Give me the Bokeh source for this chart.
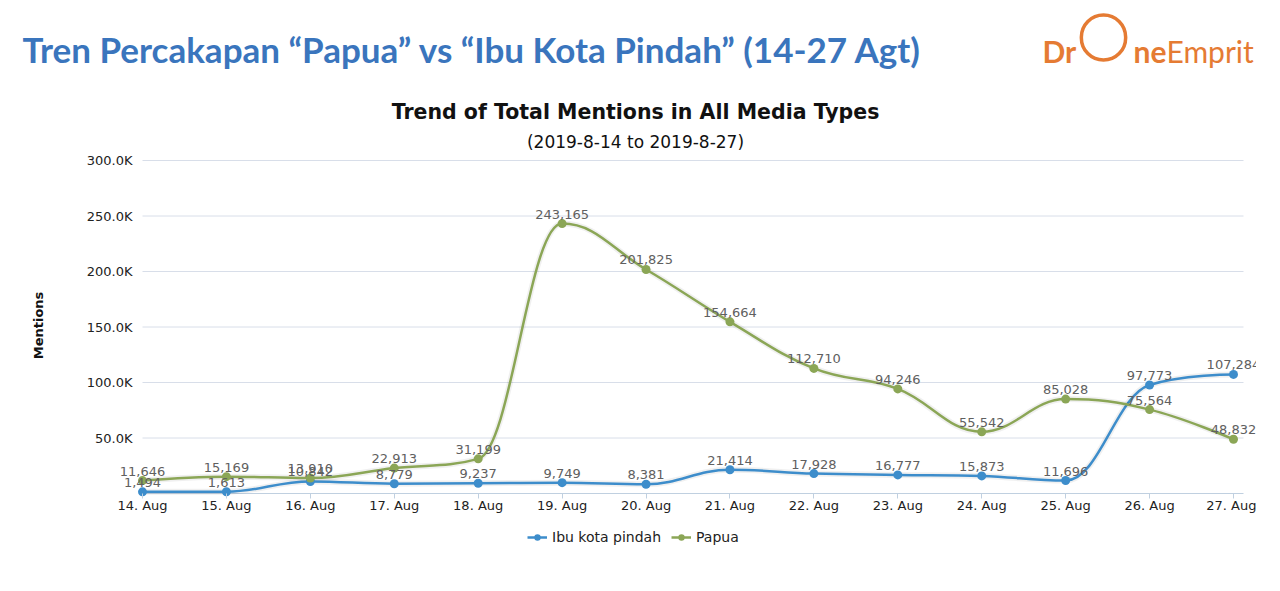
import math
from bokeh.plotting import figure
from bokeh.models import (ColumnDataSource, Range1d, FixedTicker, Label, LabelSet,
                          Legend, LegendItem)
from bokeh.core.properties import value
from bokeh.embed import file_html
from bokeh.resources import INLINE

# ---------------- data ----------------
dates = ["14. Aug", "15. Aug", "16. Aug", "17. Aug", "18. Aug", "19. Aug", "20. Aug",
         "21. Aug", "22. Aug", "23. Aug", "24. Aug", "25. Aug", "26. Aug", "27. Aug"]
ibu_kota = [1494, 1613, 10842, 8779, 9237, 9749, 8381, 21414, 17928, 16777, 15873,
            11696, 97773, 107284]
papua = [11646, 15169, 13910, 22913, 31199, 243165, 201825, 154664, 112710, 94246,
         55542, 85028, 75564, 48832]
y_ticks = [50000, 100000, 150000, 200000, 250000, 300000]
y_tick_labels = ["50.0K", "100.0K", "150.0K", "200.0K", "250.0K", "300.0K"]
series_names = ["Ibu kota pindah", "Papua"]

BLUE = "#3d8dcb"
GREEN = "#8ba656"
FONT = "DejaVu Sans"

# ---------------- layout (canvas px) ----------------
W, H = 1256, 591
X0PX, X13PX, GRID_RIGHT = 142, 1233, 1243      # first/last category, gridline end
Y0PX, YTOPPX = 493, 160                         # value 0 and value 300K
FL = 16                                         # frame left
MB = 30                                         # bottom border
FB = H - MB                                     # frame bottom
S = (X13PX - X0PX) / 13.0                       # px per category
VPX = (Y0PX - YTOPPX) / 300000.0                # px per unit value

p = figure(width=W, height=H, output_backend="svg", toolbar_location=None,
           x_range=Range1d(-(X0PX - FL) / S, (W - X0PX) / S),
           y_range=Range1d(-(FB - Y0PX) / VPX, Y0PX / VPX),
           min_border_left=FL, min_border_top=0, min_border_right=0,
           min_border_bottom=MB, title=None)
p.outline_line_color = None
p.background_fill_color = "white"
p.border_fill_color = "white"
p.xgrid.grid_line_color = None
p.ygrid.grid_line_color = None

grid_end = (GRID_RIGHT - X0PX) / S
# horizontal gridlines (limited to the plot area of the original chart)
p.segment(x0=[0] * len(y_ticks), x1=[grid_end] * len(y_ticks), y0=y_ticks, y1=y_ticks,
          line_color="#d8dee9", line_width=1)
# x axis line
p.segment(x0=[0], x1=[grid_end], y0=[0], y1=[0], line_color="#c0d0e0", line_width=1)

# x axis
xi = list(range(len(dates)))
p.xaxis.fixed_location = 0
p.xaxis.ticker = FixedTicker(ticks=xi)
p.xaxis.major_label_overrides = {i: d for i, d in enumerate(dates)}
p.xaxis.axis_line_color = None
p.xaxis.major_tick_line_color = "#c0d0e0"
p.xaxis.major_tick_in = 0
p.xaxis.major_tick_out = 5
p.xaxis.minor_tick_line_color = None
p.xaxis.major_label_standoff = -1
p.xaxis.major_label_text_font = FONT
p.xaxis.major_label_text_font_size = "13px"
p.xaxis.major_label_text_color = "#222222"

# y axis
p.yaxis.ticker = FixedTicker(ticks=y_ticks)
p.yaxis.major_label_overrides = {t: l for t, l in zip(y_ticks, y_tick_labels)}
p.yaxis.axis_line_color = None
p.yaxis.major_tick_line_color = None
p.yaxis.minor_tick_line_color = None
p.yaxis.major_tick_in = 0
p.yaxis.major_tick_out = 0
p.yaxis.major_label_standoff = -(132 - FL)
p.yaxis.major_label_text_font = FONT
p.yaxis.major_label_text_font_size = "13px"
p.yaxis.major_label_text_color = "#222222"


# ---------------- Highcharts-like spline ----------------
def spline(xs, ys, smoothing=1.5):
    n = len(xs)
    denom = smoothing + 1
    lc = [None] * n
    rc = [None] * n
    for i in range(1, n - 1):
        px, py = xs[i], ys[i]
        lx, ly = xs[i - 1], ys[i - 1]
        nx, ny = xs[i + 1], ys[i + 1]
        lcx = (smoothing * px + lx) / denom
        lcy = (smoothing * py + ly) / denom
        rcx = (smoothing * px + nx) / denom
        rcy = (smoothing * py + ny) / denom
        if rcx != lcx:
            corr = ((rcy - lcy) * (rcx - px)) / (rcx - lcx) + py - rcy
            lcy += corr
            rcy += corr
        if lcy > ly and lcy > py:
            lcy = max(ly, py)
            rcy = 2 * py - lcy
        elif lcy < ly and lcy < py:
            lcy = min(ly, py)
            rcy = 2 * py - lcy
        if rcy > ny and rcy > py:
            rcy = max(ny, py)
            lcy = 2 * py - rcy
        elif rcy < ny and rcy < py:
            rcy = min(ny, py)
            lcy = 2 * py - rcy
        lc[i] = (lcx, lcy)
        rc[i] = (rcx, rcy)
    d = dict(x0=[], y0=[], x1=[], y1=[], cx0=[], cy0=[], cx1=[], cy1=[])
    for i in range(1, n):
        d["x0"].append(xs[i - 1]); d["y0"].append(ys[i - 1])
        d["x1"].append(xs[i]); d["y1"].append(ys[i])
        c0 = rc[i - 1] if rc[i - 1] else (xs[i - 1], ys[i - 1])
        c1 = lc[i] if lc[i] else (xs[i], ys[i])
        d["cx0"].append(c0[0]); d["cy0"].append(c0[1])
        d["cx1"].append(c1[0]); d["cy1"].append(c1[1])
    return ColumnDataSource(d)


items = []
for name, vals, col in [(series_names[0], ibu_kota, BLUE), (series_names[1], papua, GREEN)]:
    src = spline(xi, vals)
    p.bezier(x0="x0", y0="y0", x1="x1", y1="y1", cx0="cx0", cy0="cy0", cx1="cx1", cy1="cy1",
             source=src, line_color="black", line_alpha=0.06, line_width=6)
    br = p.bezier(x0="x0", y0="y0", x1="x1", y1="y1", cx0="cx0", cy0="cy0", cx1="cx1",
                  cy1="cy1", source=src, line_color=col, line_width=2.5)
    psrc = ColumnDataSource(dict(x=xi, y=vals, label=[f"{v:,}" for v in vals]))
    sr = p.scatter("x", "y", source=psrc, size=9, fill_color=col, line_color=col, line_width=0)
    p.add_layout(LabelSet(x="x", y="y", text="label", source=psrc, text_align="center",
                          text_baseline="alphabetic", y_offset=5,
                          text_font_size=value("13px"), text_font=value(FONT),
                          text_color="#606060"))
    items.append(LegendItem(label=name, renderers=[br, sr]))

legend = Legend(items=items, orientation="horizontal", location=(527 - FL, FB - 545),
                glyph_width=20, glyph_height=16, label_height=16, label_standoff=5,
                spacing=10, padding=0, margin=0, border_line_color=None,
                background_fill_alpha=0, label_text_font=FONT, label_text_font_size="14px",
                label_text_color="#222222")
p.add_layout(legend, "center")


def lab(text, px, py, **kw):
    # px, py: page pixel position -> frame-relative screen units
    p.add_layout(Label(x=px - FL, y=FB - py, x_units="screen", y_units="screen",
                       text=text, **kw))


# page title
lab("Tren Percakapan \u201cPapua\u201d vs \u201cIbu Kota Pindah\u201d (14-27 Agt)", 22, 48,
    text_font="Lato", text_font_style="bold", text_font_size="35px", text_color="#3a75bd",
    text_baseline="alphabetic")
# chart title / subtitle
lab("Trend of Total Mentions in All Media Types", 635, 111, text_font=FONT,
    text_font_style="bold", text_font_size="20.5px", text_color="#111111",
    text_align="center", text_baseline="alphabetic")
lab("(2019-8-14 to 2019-8-27)", 635, 141, text_font=FONT, text_font_size="17px",
    text_color="#111111", text_align="center", text_baseline="alphabetic")
# y axis title
lab("Mentions", 38, 325, text_font=FONT, text_font_style="bold", text_font_size="13px",
    text_color="#111111", text_align="center", text_baseline="middle", angle=math.pi / 2)

# logo
ORANGE = "#e57b33"
lab("Dr", 1042, 50, text_font="Lato", text_font_style="bold", text_font_size="30px",
    text_color=ORANGE, text_baseline="alphabetic")
lab(" ", 1103, 37, text_font_size="1px", padding=22, border_radius=24,
    border_line_color=ORANGE, border_line_width=3.5, text_align="center",
    text_baseline="middle")
lab("ne", 1133, 50, text_font="Lato", text_font_style="bold", text_font_size="30px",
    text_color=ORANGE, text_baseline="alphabetic")
lab("Emprit", 1166, 50, text_font="Lato", text_font_size="30px",
    text_color=ORANGE, text_baseline="alphabetic")

open("out.html", "w").write(file_html(p, INLINE))
